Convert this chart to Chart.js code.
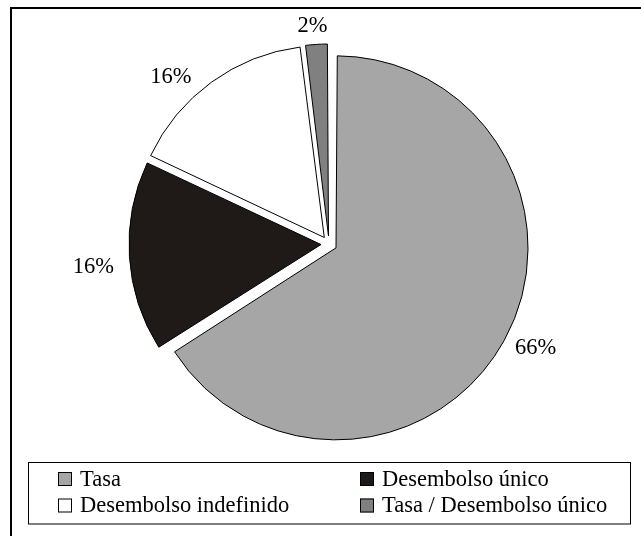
<!DOCTYPE html>
<html>
<head>
<meta charset="utf-8">
<script src="https://cdn.jsdelivr.net/npm/chart.js@4/dist/chart.umd.min.js"></script>
<style>
  html, body { margin: 0; padding: 0; background: #fff; }
  canvas { display: block; }
  #probe { position: absolute; left: -1000px; top: 0; font: 22px "Liberation Serif", Tinos, "Times New Roman", Times, serif; }
</style>
</head>
<body>
<span id="probe">Tasa 16% único</span>
<canvas id="pie" width="641" height="536"></canvas>
<script>
// data
const categories = ['Tasa', 'Desembolso único', 'Desembolso indefinido', 'Tasa / Desembolso único'];
const shares = [66, 16, 16, 2];
const sliceColors = ['#a6a6a6', '#1f1a17', '#ffffff', '#808080'];

const FONT = '22.5px "Liberation Serif", Tinos, "Times New Roman", Times, serif';
const PIE_RADIUS = 192;
const EXPLODE = 32; // chart.js moves a slice by offset / 4

// chart.js grows the radius of exploded slices, take that back out
const explodeFix = {
  id: 'explodeFix',
  afterDatasetUpdate(chart, args) {
    args.meta.data.forEach(arc => {
      const off = (arc.options.offset || 0) / 4;
      const fix = 1 - Math.sin(Math.min(Math.PI, arc.circumference));
      arc.outerRadius = PIE_RADIUS - off * fix;
    });
  }
};

// percent labels outside the slices
const sliceLabels = {
  id: 'sliceLabels',
  afterDatasetsDraw(chart, args, opts) {
    const ctx = chart.ctx;
    const arcs = chart.getDatasetMeta(0).data;
    ctx.save();
    ctx.font = FONT;
    ctx.fillStyle = '#000';
    ctx.textAlign = 'center';
    ctx.textBaseline = 'middle';
    arcs.forEach((arc, i) => {
      const mid = (arc.startAngle + arc.endAngle) / 2;
      const r = PIE_RADIUS + opts.gap;
      const nudge = opts.nudge[i] || [0, 0];
      const x = arc.x + Math.cos(mid) * r + nudge[0];
      const y = arc.y + Math.sin(mid) * r + nudge[1];
      ctx.fillText(chart.data.datasets[0].data[i] + '%', x, y);
    });
    ctx.restore();
  }
};

// boxed legend in two columns plus the outer frame
const boxLegend = {
  id: 'boxLegend',
  afterDraw(chart) {
    const ctx = chart.ctx;
    const ds = chart.data.datasets[0];
    ctx.save();
    ctx.fillStyle = '#000';
    ctx.fillRect(10, 7, 631, 2);
    ctx.fillRect(10, 7, 2, 529);

    ctx.strokeStyle = '#000';
    ctx.lineWidth = 1;
    ctx.strokeRect(28.5, 462.5, 602, 61.5);

    const cols = [58, 360];
    const rows = [479, 505.5];
    ctx.font = FONT;
    ctx.textBaseline = 'middle';
    chart.data.labels.forEach((lab, i) => {
      const x = cols[i % 2];
      const y = rows[Math.floor(i / 2)];
      ctx.fillStyle = ds.backgroundColor[i];
      ctx.fillRect(x, y - 7, 14, 14);
      ctx.strokeStyle = '#000';
      ctx.strokeRect(x + 0.5, y - 6.5, 13, 13);
      ctx.fillStyle = '#000';
      ctx.fillText(lab, x + 22, y + 1);
    });
    ctx.restore();
  }
};

function draw() {
  new Chart(document.getElementById('pie').getContext('2d'), {
    type: 'pie',
    data: {
      labels: categories,
      datasets: [{
        data: shares,
        backgroundColor: sliceColors,
        borderColor: '#000',
        borderWidth: 1,
        offset: EXPLODE,
        hoverOffset: 0
      }]
    },
    options: {
      responsive: false,
      animation: false,
      events: [],
      radius: PIE_RADIUS,
      layout: { padding: { left: 40, right: 23, top: 20, bottom: 68 } },
      plugins: {
        legend: { display: false },
        tooltip: { enabled: false },
        sliceLabels: { gap: 38, nudge: [[5, -7], [-6, 9], [-23, 19], [-2, 12]] }
      }
    },
    plugins: [explodeFix, sliceLabels, boxLegend]
  });
}

if (document.fonts && document.fonts.load) {
  document.fonts.load(FONT, 'Tasa 16%').then(draw, draw);
} else {
  draw();
}
</script>
</body>
</html>
